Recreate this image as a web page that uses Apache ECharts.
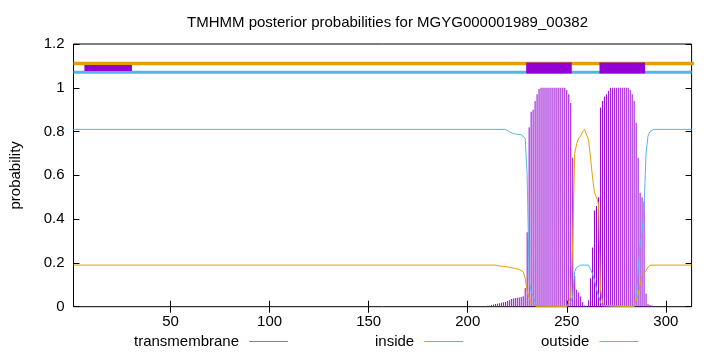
<!DOCTYPE html>
<html>
<head>
<meta charset="utf-8">
<script src="https://cdn.jsdelivr.net/npm/echarts@6/dist/echarts.min.js"></script>
<style>
html,body{margin:0;padding:0;background:#fff;}
#chart{width:720px;height:352px;}
</style>
</head>
<body>
<div id="chart"></div>
<script>
// ---------- data ----------
const titleText = 'TMHMM posterior probabilities for MGYG000001989_00382';
const seqStart = 1;
const seqEnd = 313;
const xTickValues = [50, 100, 150, 200, 250, 300];

// transmembrane posterior (only non-zero residues)
const tmResidues = [209,210,211,212,213,214,215,216,217,218,219,220,221,222,223,224,225,226,227,228,
  229,230,231,232,233,234,235,236,237,238,239,240,241,242,243,244,245,246,247,248,249,
  250,251,252,253,254,255,256,257,258,259,260,261,262,263,264,265,266,267,268,269,270,271,
  272,273,274,275,276,277,278,279,280,281,282,283,284,285,286,287,288,289,290,291,292,293,294,295];
const tmValues = [0.002,0.004,0.006,0.008,0.01,0.012,0.014,0.016,0.018,0.02,0.022,0.026,0.03,0.035,0.038,0.04,0.041,0.042,0.044,0.048,
  0.085,0.34,0.82,0.89,0.90,0.94,0.97,0.995,1,1,1,1,1,1,1,1,1,1,1,1,1,
  0.99,0.97,0.93,0.68,0.14,0.077,0.065,0.047,0.02,0.005,0.003,0.03,0.13,0.27,0.44,0.46,0.5,0.91,0.94,0.96,0.97,0.985,
  1,1,1,1,1,1,1,1,1,1,0.99,0.97,0.94,0.84,0.68,0.52,0.5,0.48,0.06,0.012,0.008,0.005,0.003,0.002];

// inside posterior
const insideResidues = [1,219,220,221,222,223,224,225,226,227,228,229,230,231,232,233,234,235,236,
  250,251,252,253,254,255,256,257,258,259,260,261,262,263,264,265,266,267,268,269,
  284,285,286,287,288,289,290,291,292,293,294,313];
const insideValues = [0.81,0.81,0.808,0.80,0.795,0.79,0.79,0.788,0.786,0.785,0.785,0.77,0.6,0.12,0.07,0.05,0.02,0.005,0,
  0,0.005,0.02,0.05,0.16,0.18,0.185,0.19,0.19,0.19,0.19,0.19,0.17,0.15,0.12,0.08,0.05,0.02,0.005,0,
  0,0.03,0.16,0.28,0.34,0.45,0.7,0.78,0.80,0.805,0.81,0.81];

// outside posterior
const outsideResidues = [1,214,215,216,217,218,219,220,221,222,223,224,225,226,227,228,229,230,231,232,233,234,235,
  250,251,252,253,254,255,256,257,258,259,260,261,262,263,264,265,266,267,268,269,270,
  283,284,285,286,287,288,289,290,291,292,313];
const outsideValues = [0.19,0.19,0.188,0.186,0.185,0.184,0.183,0.182,0.18,0.178,0.176,0.175,0.173,0.17,0.168,0.16,0.13,0.07,0.04,0.02,0.01,0.005,0,
  0,0.02,0.05,0.3,0.70,0.745,0.77,0.78,0.80,0.81,0.81,0.76,0.68,0.59,0.52,0.50,0.47,0.08,0.02,0.005,0,
  0,0.01,0.025,0.055,0.1,0.145,0.155,0.165,0.18,0.19,0.19];

// topology strip at the top
const outsideStripLevel = 1.111;
const insideStripLevel = 1.071;
const helixLevel = 1.09;
const helixStarts = [7, 230, 267];
const helixEnds = [30, 252, 289];

// ---------- chart ----------
const PURPLE = '#9400d3', BLUE = '#56b4e9', ORANGE = '#e69f00';
const PURPLE_LIGHT = '#b060e0';
const FONT = 'Liberation Sans, Arial, sans-serif';
const FS = 15;

const zip = (xs, ys) => xs.map((x, i) => [x, ys[i]]);

const series = [
  {
    name: 'transmembrane', type: 'bar', barWidth: 1,
    data: zip(tmResidues, tmValues),
    itemStyle: { color: PURPLE }, silent: true, z: 2
  },
  {
    name: 'inside', type: 'line', showSymbol: false, symbol: 'none',
    data: zip(insideResidues, insideValues),
    lineStyle: { color: BLUE, width: 1 }, itemStyle: { color: BLUE }, z: 3
  },
  {
    name: 'outside', type: 'line', showSymbol: false, symbol: 'none',
    data: zip(outsideResidues, outsideValues),
    lineStyle: { color: ORANGE, width: 1 }, itemStyle: { color: ORANGE }, z: 4
  },
  {
    name: '_outStrip', type: 'line', symbol: 'none', clip: false,
    data: [[seqStart, outsideStripLevel], [seqEnd + 13, outsideStripLevel]],
    lineStyle: { color: ORANGE, width: 3.5 }, z: 5, silent: true
  },
  {
    name: '_inStrip', type: 'line', symbol: 'none', clip: false,
    data: [[seqStart, insideStripLevel], [seqEnd, insideStripLevel]],
    lineStyle: { color: BLUE, width: 3 }, z: 5, silent: true
  }
];
helixStarts.forEach((s, i) => {
  series.push({
    name: '_helix' + i, type: 'line', symbol: 'none', clip: false,
    data: [[s - 0.5, helixLevel], [helixEnds[i] + 0.5, helixLevel]],
    lineStyle: { color: PURPLE, width: i === 0 ? 6 : 11, cap: 'butt' }, z: 6, silent: true
  });
});

const tickStyle = { color: '#000', width: 1 };
const legendText = { fontFamily: FONT, fontSize: FS, color: '#000', padding: [0, 5, 0, 0] };
const legendCommon = { top: 329, align: 'right', icon: 'rect', itemWidth: 39, itemHeight: 1, textStyle: legendText, selectedMode: false };
const chart = echarts.init(document.getElementById('chart'), null, { renderer: 'canvas' });
chart.setOption({
  animation: false,
  backgroundColor: '#fff',
  textStyle: { fontFamily: FONT },
  title: {
    text: titleText, left: 382.5, textAlign: 'center', top: 10,
    textStyle: { fontFamily: FONT, fontSize: FS, fontWeight: 'normal', color: '#000' }
  },
  grid: { left: 73.5, right: 28.4, top: 44, bottom: 45.3, show: true, borderColor: '#000', borderWidth: 1, backgroundColor: 'transparent' },
  legend: [
    Object.assign({ data: [{ name: 'transmembrane', itemStyle: { color: PURPLE_LIGHT } }], left: 129 }, legendCommon),
    Object.assign({ data: [{ name: 'inside', itemStyle: { color: BLUE } }], left: 370 }, legendCommon),
    Object.assign({ data: [{ name: 'outside', itemStyle: { color: ORANGE } }], left: 536 }, legendCommon)
  ],
  xAxis: [
    { type: 'value', min: seqStart, max: seqEnd, position: 'bottom',
      axisLine: { show: false },
      axisTick: { inside: true, length: 6, customValues: xTickValues, lineStyle: tickStyle },
      axisLabel: { customValues: xTickValues, fontFamily: FONT, fontSize: FS, color: '#000', margin: 8 },
      splitLine: { show: false } },
    { type: 'value', min: seqStart, max: seqEnd, position: 'top',
      axisLine: { show: false },
      axisTick: { inside: true, length: 6, customValues: xTickValues, lineStyle: tickStyle },
      axisLabel: { show: false }, splitLine: { show: false } }
  ],
  yAxis: [
    { type: 'value', min: 0, max: 1.2, interval: 0.2, position: 'left',
      name: 'probability', nameLocation: 'middle', nameGap: 50, nameRotate: 90,
      nameTextStyle: { fontFamily: FONT, fontSize: FS, color: '#000' },
      axisLine: { show: false },
      axisTick: { inside: true, length: 6, lineStyle: tickStyle },
      axisLabel: { fontFamily: FONT, fontSize: FS, color: '#000', margin: 9 },
      splitLine: { show: false } },
    { type: 'value', min: 0, max: 1.2, interval: 0.2, position: 'right',
      axisLine: { show: false },
      axisTick: { inside: true, length: 6, lineStyle: tickStyle },
      axisLabel: { show: false }, splitLine: { show: false } }
  ],
  series: series
});
</script>
</body>
</html>
